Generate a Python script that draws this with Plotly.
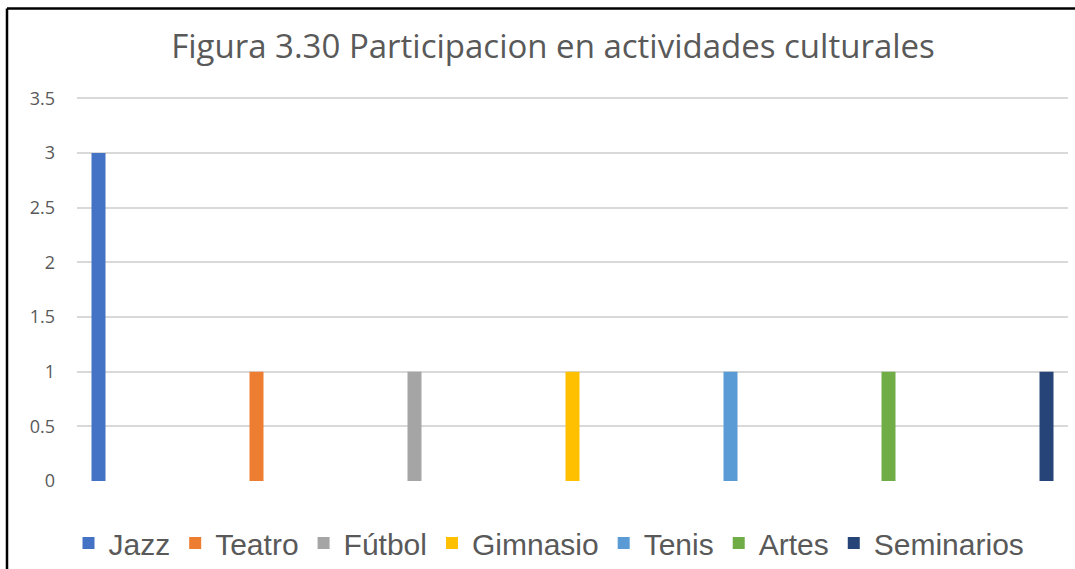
import plotly.graph_objects as go

categories = ["Participación"]
series_names = ["Jazz", "Teatro", "Fútbol", "Gimnasio", "Tenis", "Artes", "Seminarios"]
series_values = [3, 1, 1, 1, 1, 1, 1]
series_colors = ["#4472C4", "#ED7D31", "#A5A5A5", "#FFC000", "#5B9BD5", "#70AD47", "#264478"]
y_ticks = [0, 0.5, 1, 1.5, 2, 2.5, 3, 3.5]
y_ticklabels = ["0", "0.5", "1", "1.5", "2", "2.5", "3", "3.5"]

W, H = 1075, 569
L, R, T, B = 77, 7, 95.5, 88
pw, ph = W - L - R, H - T - B

fig = go.Figure()
for name, val, col in zip(series_names, series_values, series_colors):
    fig.add_trace(go.Bar(x=categories, y=[val], name=name, marker_color=col,
                         marker_line_width=0))

half = pw / (7 * 158) / 2

def px2paper_x(px):
    return (px - L) / pw

def px2paper_y(py):
    return (H - B - py) / ph

fig.update_layout(
    width=W, height=H,
    margin=dict(l=L, r=R, t=T, b=B, autoexpand=False),
    paper_bgcolor="white", plot_bgcolor="white",
    barmode="group", bargap=0, bargroupgap=1 - 14 / 158,
    title=dict(text="Figura 3.30 Participacion en actividades culturales",
               x=553 / W, xanchor="center", y=1 - 46 / H, yanchor="middle",
               xref="container", yref="container",
               font=dict(family="Open Sans", size=33, color="#595959")),
    xaxis=dict(range=[-half, half], showticklabels=False, showgrid=False,
               zeroline=False, showline=False, fixedrange=True, automargin=False),
    yaxis=dict(range=[0, 3.52], tickvals=y_ticks, ticktext=y_ticklabels,
               showgrid=True, gridcolor="#D9D9D9", gridwidth=1.6,
               zeroline=False, showline=False, ticks="", automargin=False,
               ticklabelstandoff=21,
               tickfont=dict(family="Open Sans", size=18, color="#595959")),
    legend=dict(orientation="h", x=549 / W, xanchor="center",
                xref="container", yref="container",
                y=1 - 543 / H, yanchor="middle",
                font=dict(family="Liberation Sans", size=30, color="#595959"),
                itemwidth=30, traceorder="normal", tracegroupgap=0,
                bgcolor="rgba(0,0,0,0)"),
    showlegend=True,
    shapes=[
        dict(type="line", xref="paper", yref="paper",
             x0=px2paper_x(7), x1=px2paper_x(W + 5), y0=px2paper_y(8), y1=px2paper_y(8),
             line=dict(color="black", width=2.5)),
        dict(type="line", xref="paper", yref="paper",
             x0=px2paper_x(7), x1=px2paper_x(7), y0=px2paper_y(8), y1=px2paper_y(H + 5),
             line=dict(color="black", width=2.5)),
    ],
)

fig.write_html("out.html",
               config={"displayModeBar": False},
               post_script="document.body.style.margin='0';document.body.style.overflow='hidden';")
